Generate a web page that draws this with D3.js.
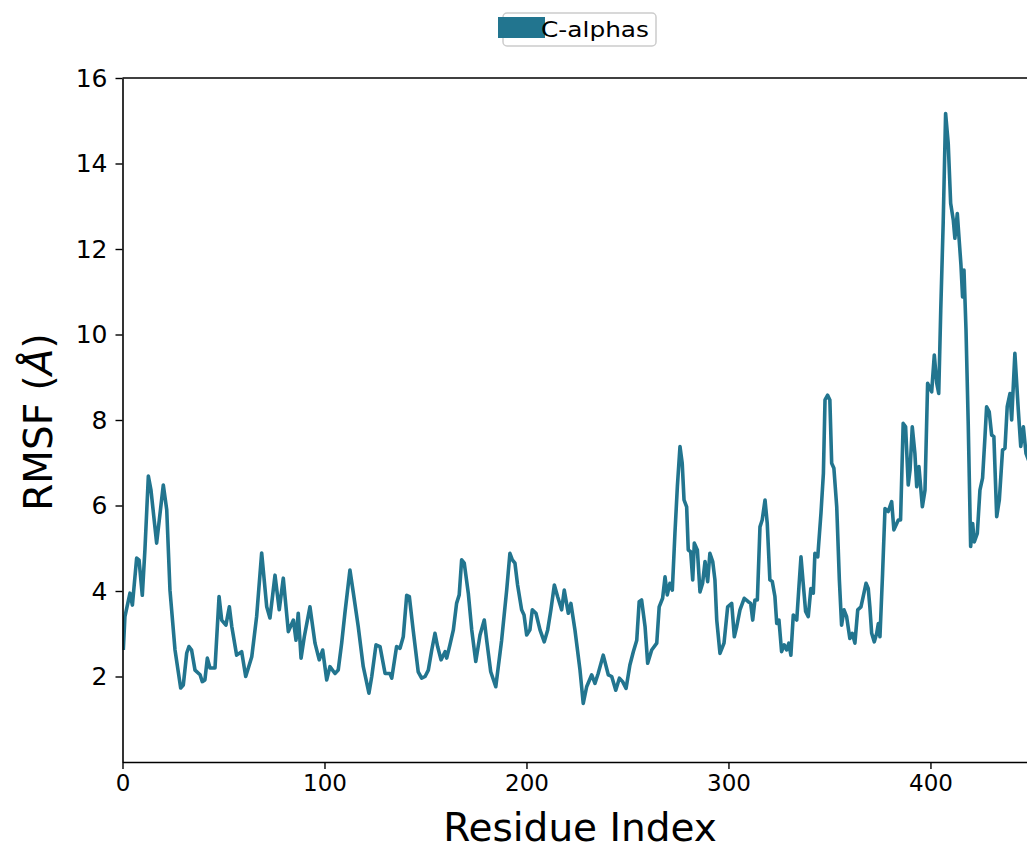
<!DOCTYPE html>
<html>
<head>
<meta charset="utf-8">
<script src="https://cdn.jsdelivr.net/npm/d3@7"></script>
<style>
  body { margin: 0; background: #fff; }
  text { font-family: "DejaVu Sans", sans-serif; }
</style>
</head>
<body>
<div id="canvas"></div>
<script>
// residue index (x) and C-alpha RMSF in Angstrom (y)
var residues = [0.4,1.2,3.7,4.9,7.0,8.2,9.8,11.1,12.8,14.1,16.9,20.2,21.9,23.5,26,28.8,30.1,31.8,32.9,34.2,35.9,38.4,39.5,40.8,42,43.3,45.8,47.8,49.1,51.2,52.9,54.1,56.5,59,61,62.3,64,66.4,68.9,71.4,73,
  75.5,77.6,79.6,82.1,84.6,85.9,87,88.4,90,92.8,95.3,97.4,99.1,101.1,102.7,105.2,106.8,108.5,110.1,112.6,114.3,116.7,119.2,122,123.4,125.5,127.5,130,132.4,133.3,135.7,137.4,139,140.7,142,144,146.4,148.1,149.8,
  151.4,153.1,154.7,156,157.7,159.7,160.5,162.1,163.8,165.4,166.7,167.9,169.2,171.2,172.9,174.9,177,179.1,180.3,182.3,184.8,187.7,190.2,191.8,193,194.3,195.6,197.6,198.8,200.1,201.7,202.9,204.7,206.7,208.8,210.5,212.1,213.8,215.4,217.4,218.7,220.7,222,224,226.5,228.1,
  229.8,232.3,233.9,235.5,238,240.5,242.2,244.2,246,247.6,249.3,251.2,252.9,254.6,255.8,257,258.7,260,262,264.5,265.7,267.4,268.6,269.7,271,272.2,273.5,274.7,276,277.1,278,279.3,280.1,281.3,282.3,283.1,284.6,285.9,287.2,288.4,289.7,290.8,292.2,293.3,294.2,295.8,297.8,299.6,301.6,302.9,304.1,
  305.7,307.8,309.8,311,312,313.1,314.3,315.6,316.7,318.1,319.2,320.5,321.7,323,323.9,325,326.3,327.6,328.8,329.9,330.9,332.1,333.8,334.9,335.9,337,338.2,339.5,340.8,342,342.8,344.2,345.8,347,347.8,349.1,350.2,351.1,352.2,353.6,354.9,356,357.2,358.5,360.1,361.3,362.6,364,365.6,366.7,368.1,369.2,370,370.9,372.2,373.4,374.2,375,376.3,
  377.5,379.1,380.8,381.9,384.1,385.2,386.5,387.7,389,389.9,391,392.3,393.2,394.3,396,397.3,398.6,399.8,400.6,401.9,403.1,404.1,405.1,406.3,407.5,408.8,410,411.3,412.1,413.3,414.1,415.1,415.9,416.6,417.6,418.7,419.9,420.9,421.7,423.2,424.5,425.8,427,427.8,429.1,430.3,431.4,432.8,434.1,435.7,436.9,438,439.4,440.2,441.8,443.5,444.7,446,447.3,449];
var rmsf = [2.62,3.40,3.95,3.67,4.77,4.72,3.90,4.96,6.69,6.36,5.12,6.48,5.90,4.02,2.62,1.73,1.80,2.55,2.70,2.62,2.15,2.04,1.88,1.92,2.43,2.20,2.20,3.87,3.32,3.20,3.63,3.17,2.50,2.58,2.00,2.20,2.46,3.40,4.89,3.63,3.37,
  4.37,3.56,4.30,3.05,3.32,2.85,3.48,2.43,2.93,3.63,2.78,2.39,2.62,1.92,2.23,2.07,2.15,2.78,3.48,4.49,3.95,3.17,2.23,1.61,2.00,2.74,2.70,2.07,2.07,1.96,2.70,2.66,2.93,3.90,3.87,3.05,2.11,1.96,2.00,
  2.15,2.62,3.01,2.70,2.39,2.58,2.43,2.74,3.09,3.71,3.91,4.73,4.65,3.95,3.09,2.35,2.97,3.32,2.85,2.11,1.76,2.85,4.02,4.88,4.73,4.65,4.14,3.56,3.44,2.97,3.09,3.56,3.48,3.09,2.81,3.09,3.56,4.14,3.87,3.56,4.02,3.48,3.71,3.09,2.15,1.37,
  1.76,2.04,1.84,2.07,2.50,2.04,2.00,1.68,1.96,1.88,1.72,2.27,2.58,2.85,3.75,3.79,3.17,2.31,2.62,2.78,3.63,3.83,4.33,3.91,4.18,4.02,5.35,6.44,7.38,6.99,6.13,5.97,4.96,4.92,4.26,5.12,4.96,3.98,4.18,4.69,4.22,4.88,4.69,4.26,3.32,2.54,2.78,3.63,3.71,2.93,3.17,
  3.56,3.83,3.75,3.71,3.32,3.79,3.79,5.50,5.66,6.13,5.58,4.26,4.22,3.87,3.24,3.32,2.58,2.74,2.62,2.78,2.50,3.44,3.32,4.10,4.80,4.18,3.52,3.40,4.06,3.95,4.88,4.80,5.82,6.75,8.47,8.58,8.47,6.99,6.87,5.97,4.26,3.20,3.56,3.40,2.89,3.01,2.78,3.56,3.63,3.87,4.18,4.06,3.63,3.01,2.81,3.01,3.24,2.93,4.41,
  5.93,5.86,6.09,5.43,5.66,5.66,7.92,7.84,6.48,6.83,7.84,7.22,6.44,6.91,5.97,6.36,8.86,8.74,8.66,9.52,8.86,8.62,10.57,12.60,15.17,14.47,13.07,12.68,12.25,12.83,12.29,11.63,10.88,11.51,10.11,7.92,5.04,5.58,5.15,5.35,6.36,6.64,7.61,8.31,8.19,7.65,7.61,5.74,6.13,7.30,7.34,8.31,8.62,8.00,9.56,8.23,7.38,7.84,7.22,7.0];

var xTicks = [0, 100, 200, 300, 400];
var yTicks = [2, 4, 6, 8, 10, 12, 14, 16];
var seriesName = "C-alphas";
var lineColor = "#22758f";

var W = 1027, H = 850;
var plotLeft = 122.5, plotRight = 1027, plotTop = 78, plotBottom = 762;

svg = d3.select("#canvas").append("svg")
  .attr("width", W)
  .attr("height", H);

var x = d3.scaleLinear().domain([0, 447.8]).range([plotLeft, plotRight]);
var y = d3.scaleLinear().domain([0, 16]).range([plotBottom, plotTop]);

// clip the line to the axes box (the plot runs off the right edge)
svg.append("clipPath").attr("id", "clip")
  .append("rect")
  .attr("x", plotLeft).attr("y", plotTop)
  .attr("width", plotRight - plotLeft).attr("height", plotBottom - plotTop);

var pts = residues.map(function(r, i) { return [r, rmsf[i]]; });

var line = d3.line()
  .x(function(d) { return x(d[0]); })
  .y(function(d) { return y(d[1]); });

svg.append("path")
  .datum(pts)
  .attr("clip-path", "url(#clip)")
  .attr("fill", "none")
  .attr("stroke", lineColor)
  .attr("stroke-width", 3.6)
  .attr("stroke-linejoin", "round")
  .attr("d", line);

// axes
var xAxis = svg.append("g")
  .attr("transform", "translate(0," + plotBottom + ")")
  .call(d3.axisBottom(x).tickValues(xTicks).tickSize(7).tickPadding(6).tickSizeOuter(0));
xAxis.selectAll("text").attr("font-size", 23).attr("fill", "#000");

var yAxis = svg.append("g")
  .attr("transform", "translate(" + plotLeft + ",0)")
  .call(d3.axisLeft(y).tickValues(yTicks).tickSize(7).tickPadding(8).tickSizeOuter(0));
yAxis.selectAll("text").attr("font-size", 25).attr("fill", "#000");

svg.selectAll(".domain").attr("stroke", "#000").attr("stroke-width", 1.6);
svg.selectAll(".tick line").attr("stroke", "#000").attr("stroke-width", 1.4);

// top spine
svg.append("line")
  .attr("x1", plotLeft).attr("x2", plotRight)
  .attr("y1", plotTop).attr("y2", plotTop)
  .attr("stroke", "#000").attr("stroke-width", 1.6);

// axis titles
svg.append("text")
  .attr("x", 580).attr("y", 841)
  .attr("text-anchor", "middle")
  .attr("font-size", 39)
  .text("Residue Index");

var yl = svg.append("text")
  .attr("transform", "translate(52,422) rotate(-90)")
  .attr("text-anchor", "middle")
  .attr("font-size", 39);
yl.append("tspan").text("RMSF (");
yl.append("tspan").attr("font-style", "italic").text("\u00c5");
yl.append("tspan").text(")");

// legend
var lg = svg.append("g");
lg.append("rect")
  .attr("x", 503).attr("y", 13)
  .attr("width", 153).attr("height", 33)
  .attr("rx", 4)
  .attr("fill", "#fff")
  .attr("stroke", "#ccc")
  .attr("stroke-width", 1.5);
lg.append("rect")
  .attr("x", 498).attr("y", 17)
  .attr("width", 47).attr("height", 21)
  .attr("fill", lineColor);
lg.append("text")
  .attr("x", 541).attr("y", 37)
  .attr("font-size", 22)
  .attr("textLength", 108)
  .attr("lengthAdjust", "spacingAndGlyphs")
  .text(seriesName);
</script>
</body>
</html>
